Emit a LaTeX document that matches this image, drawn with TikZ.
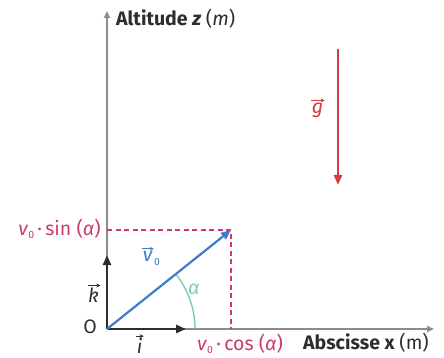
\documentclass[tikz,border=0pt]{standalone}
\usepackage{fontspec}
\setmainfont{Fira Sans}
\usetikzlibrary{arrows.meta}
\definecolor{axisgray}{HTML}{8C8C8C}
\definecolor{darkc}{HTML}{2E2E2E}
\definecolor{pinkc}{HTML}{C93A6E}
\definecolor{bluec}{HTML}{3D7CC9}
\definecolor{tealc}{HTML}{7CCBBE}
\definecolor{redc}{HTML}{D63A3A}
\newcommand{\vecarr}[1]{\tikz[baseline=(t.base),x=1cm,y=1cm]{\node[inner sep=0pt,outer sep=0pt](t){#1};\draw[-{Stealth[length=4pt,width=4pt]},line width=0.8pt]([yshift=2.4pt,xshift=-0.5pt]t.north west)--([yshift=2.4pt,xshift=1.5pt]t.north east);}}
\newcommand{\sub}[1]{\raisebox{-0.35ex}{\fontsize{10.5}{10.5}\selectfont #1}}
\begin{document}
\begin{tikzpicture}[x=1pt,y=-1pt,
  axis/.style={axisgray,line width=1.8pt,-{Triangle[length=7pt,width=6pt]}},
  unit/.style={darkc,line width=2.4pt,-{Triangle[length=10pt,width=8pt]}},
  projline/.style={pinkc,line width=1.8pt,dash pattern=on 5pt off 3.5pt},
  lbl/.style={font=\fontsize{19.5}{23}\selectfont,inner sep=0pt}]
\useasboundingbox (0,0) rectangle (444,358);
\coordinate (O) at (107,329);
\coordinate (zend) at (107,11);
\coordinate (xend) at (434,329);
\coordinate (kend) at (107,255);
\coordinate (iend) at (186,329);
\coordinate (V) at (231,230);
\coordinate (Vz) at (107,230);
\coordinate (Vx) at (231,329);
\coordinate (gtop) at (338,49);
\coordinate (gbot) at (338,185);
% axes
\draw[axis] (O) -- (zend);
\draw[axis] (O) -- (xend);
% dashed projections
\draw[projline] (Vz) -- (V) -- (Vx);
% unit vectors
\draw[unit] (O) -- (kend);
\draw[unit] (O) -- (iend);
% angle arc
\draw[tealc,line width=1.4pt] (195,329) arc[start angle=0,end angle=-38.6,radius=88];
% v0 vector
\draw[bluec,line width=2.2pt,-{Triangle[length=10pt,width=8pt]}] (O) -- (V);
% g vector
\draw[redc,line width=2.2pt,-{Triangle[length=10pt,width=8pt]}] (gtop) -- (gbot);
% labels
\node[lbl,anchor=west,font=\fontsize{19.5}{23}\selectfont\bfseries,text=darkc] (zl) at (116,19) {Altitude \textit{z} \textmd{(\textit{m})}};
\node[lbl,anchor=east,font=\fontsize{19.5}{23}\selectfont\bfseries,text=darkc] (xl) at (429,343) {Abscisse x \textmd{(m)}};
\node[lbl,text=darkc] (Ol) at (90,327) {O};
\node[lbl,text=darkc] (kl) at (94,293) {\vecarr{\itshape k}};
\node[lbl,text=darkc] (il) at (140,344) {\vecarr{\itshape i}};
\node[lbl,text=bluec] (vl) at (151,256) {\vecarr{\itshape v}\sub{0}};
\node[lbl,text=redc] (gl) at (318,108) {\vecarr{\itshape g}};
\node[lbl,text=tealc] (al) at (194,289) {\itshape α};
\node[lbl,anchor=east,text=pinkc] (sl) at (101,229) {\textit{v}\sub{0}\,·\,sin (\textit{α})};
\node[lbl,anchor=west,text=pinkc] (cl) at (197,344) {\textit{v}\sub{0}\,·\,cos (\textit{α})};
\end{tikzpicture}
\end{document}
